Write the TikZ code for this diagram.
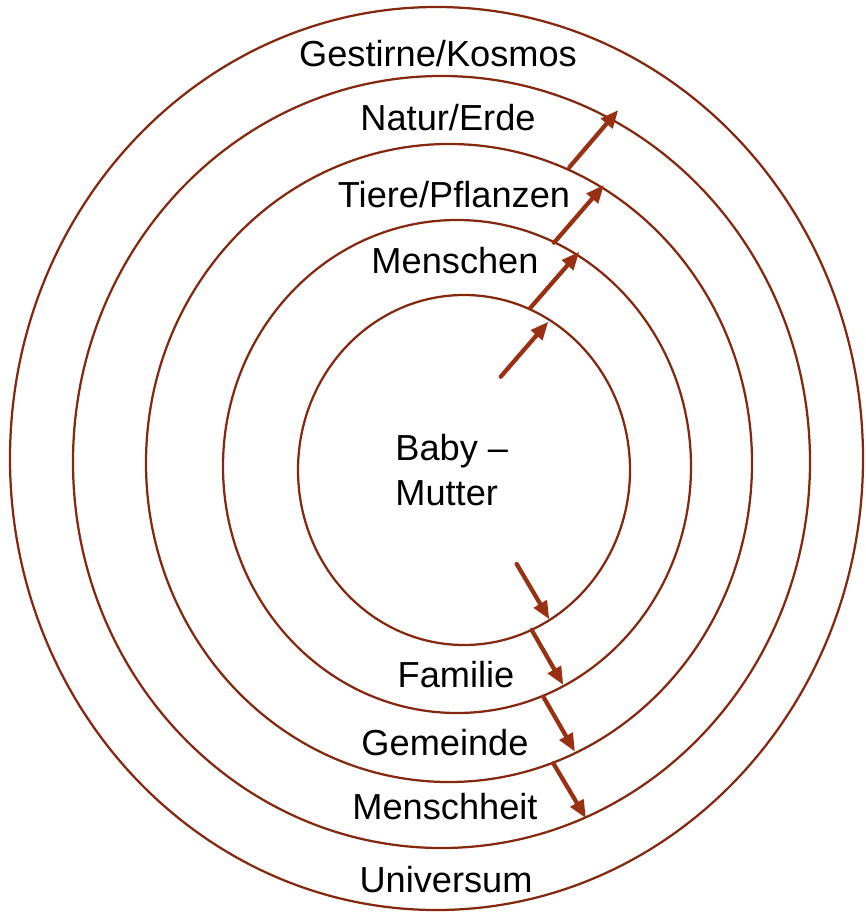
\documentclass[tikz,border=0pt]{standalone}
\usepackage{fontspec}
\setmainfont{Liberation Sans}
\usepackage{tikz}
\usetikzlibrary{positioning,arrows.meta,shapes.geometric}
\definecolor{ring700} {HTML}{842810}
\definecolor{arrow600}{HTML}{9A3012}
\tikzset{
  ring/.style  ={ellipse, draw=ring700, line width=0.45mm, inner sep=0pt},
  lbl/.style   ={font=\fontsize{20.6}{25.6}\selectfont, anchor=base,
                 inner sep=0pt},
  ar/.style    ={-{Triangle[length=3.6mm, width=2.9mm]}, draw=arrow600,
                 line width=0.85mm, line cap=round}
}
\begin{document}
\begin{tikzpicture}[x=0.2mm, y=-0.2mm]
\useasboundingbox (0,0) rectangle (865,912);
% Rings from the outside in; the centres drift a little to the right.
\node[ring, minimum width=170.6mm, minimum height=180.6mm] (kosmos) at (436.5,458.5) {};
\node[ring, minimum width=147.4mm, minimum height=154.4mm] (erde)   at (441.5,462)   {};
\node[ring, minimum width=121.2mm, minimum height=127.6mm] (tiere)  at (449,463)     {};
\node[ring, minimum width=93.6mm,  minimum height=98.6mm]  (mensch) at (457,466.5)   {};
\node[ring, minimum width=66.4mm,  minimum height=70mm]    (baby)   at (464,470)     {};

% Labels, upper half and lower half
\node[lbl] (tGest)  at (438,67)  {Gestirne/Kosmos};
\node[lbl] (tNatur) at (448,130) {Natur/Erde};
\node[lbl] (tTiere) at (454,207) {Tiere/Pflanzen};
\node[lbl] (tMen)   at (455,273) {Menschen};
% base of a two-line node sits on the last line
\node[lbl, anchor=base west, align=left] (tBaby) at (395,505) {Baby --\\Mutter};
\node[lbl] (tFam)   at (456,687) {Familie};
\node[lbl] (tGem)   at (445,755) {Gemeinde};
\node[lbl] (tMhe)   at (445,819) {Menschheit};
\node[lbl] (tUni)   at (446,892) {Universum};

% Arrow ends: each chain starts inside and steps across one ring at a time.
\coordinate (u0) at (500.7,376.7); \coordinate (u1) at (548.3,321.7);
\coordinate (v1) at (530,308.3);   \coordinate (u2) at (579.3,251.7);
\coordinate (v2) at (554,242.7);   \coordinate (u3) at (604,185);
\coordinate (v3) at (569.3,167.3); \coordinate (u4) at (618.3,110);
\coordinate (d0) at (516.7,564);   \coordinate (d1) at (549.3,619.3);
\coordinate (e1) at (531.7,630);   \coordinate (d2) at (563.3,685);
\coordinate (e2) at (543.3,696.7); \coordinate (d3) at (575,751.7);
\coordinate (e3) at (553.3,763.3); \coordinate (d4) at (586,818.3);

\draw[ar] (u0) -- (u1);
\draw[ar] (v1) -- (u2);
\draw[ar] (v2) -- (u3);
\draw[ar] (v3) -- (u4);
\draw[ar] (d0) -- (d1);
\draw[ar] (e1) -- (d2);
\draw[ar] (e2) -- (d3);
\draw[ar] (e3) -- (d4);
\end{tikzpicture}
\end{document}
